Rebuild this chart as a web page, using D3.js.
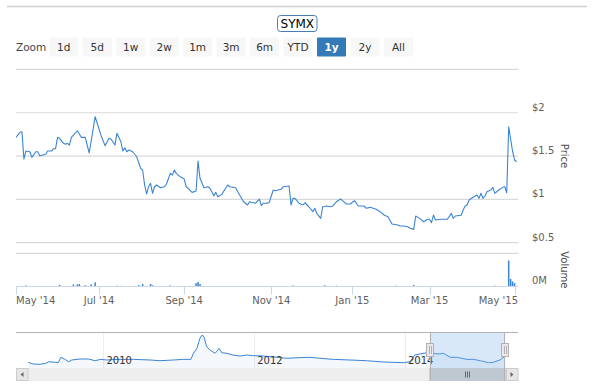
<!DOCTYPE html>
<html><head><meta charset="utf-8">
<script src="https://cdn.jsdelivr.net/npm/d3@7"></script>
<style>
html,body{margin:0;padding:0;background:#fff;}
svg{display:block;font-family:"DejaVu Sans",Verdana,sans-serif;}
</style></head><body>
<svg id="chart" width="599" height="392"></svg>
<script>
// ---------- data ----------
const title = "SYMX";
const zoomButtons = ["1d","5d","1w","2w","1m","3m","6m","YTD","1y","2y","All"];
const selectedButton = "1y";
const priceTicks = [0.5, 1, 1.5, 2, 2.5];
const priceTickLabels = ["$0.5","$1","$1.5","$2",""];
const volumeTicks = [0];
const volumeTickLabels = ["0M"];
const xTickDays = [0, 42, 85, 129, 170, 209, 252];
const xTickLabels = ["May '14","Jul '14","Sep '14","Nov '14","Jan '15","Mar '15","May '15"];
// trading-day index (0 = 1 May 2014) and closing price
const priceDays = [0,2,3,4,5,7,8,10,11,12,15,16,18,19,20,21,22,24,25,26,27,28,31,33,35,37,40,43,45,47,48,50,51,53,54,55,56,57,59,61,63,64,65,66,67,68,69,70,71,73,75,76,78,79,80,81,83,85,86,87,89,91,92,93,95,97,98,100,101,102,104,107,108,111,113,115,117,118,119,121,123,124,125,127,128,130,131,134,135,138,139,140,141,143,145,146,148,150,151,152,154,155,157,159,160,162,164,165,167,169,171,173,176,177,179,182,184,186,188,190,193,194,196,198,199,201,202,204,206,208,209,210,211,212,215,218,220,221,222,225,226,227,228,229,231,233,234,235,236,237,238,240,241,242,244,246,247,248,249,251,252,253];
const prices = [1.716,1.774,1.78,1.466,1.558,1.55,1.485,1.55,1.55,1.504,1.52,1.558,1.558,1.585,1.585,1.716,1.705,1.647,1.635,1.647,1.627,1.716,1.792,1.716,1.716,1.535,1.954,1.735,1.62,1.705,1.697,1.627,1.762,1.665,1.558,1.596,1.55,1.57,1.55,1.492,1.358,1.339,1.166,1.062,1.146,1.185,1.07,1.146,1.166,1.135,1.146,1.174,1.3,1.28,1.339,1.3,1.26,1.235,1.146,1.128,1.081,1.096,1.443,1.243,1.135,1.146,1.128,1.043,1.081,1.03,1.058,1.166,1.146,1.135,1.05,0.973,0.935,0.973,0.966,0.955,1.004,0.927,0.955,0.955,0.966,1.108,1.1,1.116,1.146,1.154,0.935,1.012,1.012,0.955,0.935,0.961,0.915,0.858,0.897,0.839,0.781,0.915,0.923,0.915,0.923,0.973,1.004,0.985,0.947,0.947,0.985,0.923,0.923,0.897,0.908,0.885,0.858,0.82,0.8,0.716,0.704,0.693,0.693,0.685,0.67,0.654,0.808,0.781,0.742,0.77,0.77,0.731,0.82,0.762,0.77,0.77,0.839,0.781,0.808,0.816,0.877,0.923,0.935,0.993,1.024,1.05,1.012,1.07,1.012,1.039,1.089,1.108,1.139,1.07,1.108,1.139,1.146,1.077,1.838,1.55,1.454,1.434];
// volume in millions of shares
const volumeDays = [5,22,29,31,32,35,38,40,51,53,62,64,68,69,78,91,92,93,140,156,162,192,201,242,249,250,251,252];
const volumes = [0.12,0.2,0.25,0.25,0.3,0.15,0.25,0.5,0.1,0.08,0.15,0.3,0.3,0.15,0.12,0.4,0.55,0.3,0.12,0.15,0.1,0.1,0.2,0.1,3.13,0.9,0.6,0.4];
// navigator (full history)
const navYears = [2009.005,2009.07,2009.16,2009.23,2009.28,2009.36,2009.40,2009.435,2009.48,2009.54,2009.58,2009.69,2009.80,2009.89,2009.96,2010.045,2010.18,2010.40,2010.62,2010.75,2010.93,2011.06,2011.16,2011.19,2011.24,2011.28,2011.31,2011.335,2011.37,2011.415,2011.48,2011.50,2011.535,2011.57,2011.64,2011.72,2011.81,2011.90,2011.99,2012.12,2012.30,2012.43,2012.61,2012.74,2012.87,2013.05,2013.27,2013.49,2013.71,2013.98,2014.07,2014.13,2014.24,2014.31,2014.44,2014.51,2014.60,2014.69,2014.82,2014.91,2015.00,2015.11,2015.17,2015.26,2015.33];
const navPrices = [0.63,0.44,0.41,0.52,0.70,0.63,0.59,1.19,1.00,0.70,0.89,1.00,1.00,0.81,0.96,0.89,0.96,0.96,0.89,0.81,0.89,0.96,0.96,1.56,2.19,3.30,3.67,3.41,2.37,2.00,1.63,1.81,2.19,1.70,1.63,1.44,1.33,1.44,1.37,1.33,1.19,1.08,1.15,1.19,1.08,0.96,0.89,0.81,0.67,0.59,0.70,1.44,1.63,1.70,1.56,1.63,1.19,1.19,0.96,0.96,0.81,0.59,0.63,0.89,1.33];
const navTickYears = [2010, 2012, 2014];
const navTickLabels = ["2010","2012","2014"];
const selectedRange = [2014.33, 2015.33];

// ---------- layout ----------
const svg = d3.select("#chart");
const L = 16, R = 518;
const lineColor = "#3a84d2";
const labelColor = "#606060";

// page rule
svg.append("line").attr("x1",7).attr("x2",587).attr("y1",6.5).attr("y2",6.5)
  .attr("stroke","#d0d0d0").attr("stroke-width",1.3);

// title box
const tg = svg.append("g");
tg.append("rect").attr("x",277.5).attr("y",15.5).attr("width",39.5).attr("height",16)
  .attr("rx",3).attr("fill","#fff").attr("stroke","#4a7db3");
tg.append("text").attr("x",297.3).attr("y",27.6).attr("text-anchor","middle")
  .attr("font-size",12).attr("fill","#000").text(title);

// range selector
svg.append("text").attr("x",16).attr("y",50.7).attr("font-size",10.5).attr("fill","#444").text("Zoom");
const bx = d3.scaleBand().domain(zoomButtons).range([49.3, 49.3 + 33.1*zoomButtons.length]).paddingInner(0.12).paddingOuter(0);
const bg = svg.selectAll("g.btn").data(zoomButtons).join("g").attr("class","btn");
bg.append("rect").attr("x",d=>bx(d)).attr("y",37.5).attr("width",29).attr("height",19)
  .attr("rx",1).attr("fill",d=>d===selectedButton?"#337ab7":"#f7f7f7");
bg.append("text").attr("x",d=>bx(d)+14.5).attr("y",50.7).attr("text-anchor","middle")
  .attr("font-size",10.5).attr("font-weight",d=>d===selectedButton?"bold":"normal")
  .attr("fill",d=>d===selectedButton?"#fff":"#333").text(d=>d);

// scales
const x = d3.scaleLinear().domain([0, 253.7]).range([L, R]);
const y = d3.scaleLinear().domain([0.5, 2.5]).range([242.7, 69.4]);
const yv = d3.scaleLinear().domain([0, 4]).range([286.5, 253.3]);

// price gridlines and labels
const pg = svg.append("g");
pg.selectAll("line").data(priceTicks).join("line")
  .attr("x1",L).attr("x2",R).attr("y1",d=>y(d)).attr("y2",d=>y(d))
  .attr("stroke","#d9d9d9").attr("stroke-width",1.2);
pg.selectAll("text").data(priceTicks).join("text")
  .attr("x",532).attr("y",d=>y(d)-2).attr("font-size",10).attr("fill",labelColor)
  .text((d,i)=>priceTickLabels[i]);
svg.append("text").attr("transform",`translate(561,${(y(0.5)+y(2.5))/2}) rotate(90)`)
  .attr("text-anchor","middle").attr("font-size",10).attr("fill","#4d4d4d").text("Price");

// volume pane
svg.append("line").attr("x1",L).attr("x2",R).attr("y1",253.3).attr("y2",253.3).attr("stroke","#d9d9d9").attr("stroke-width",1.2);
svg.selectAll("text.vl").data(volumeTicks).join("text").attr("class","vl")
  .attr("x",532).attr("y",d=>yv(d)-2.5).attr("font-size",10).attr("fill",labelColor)
  .text((d,i)=>volumeTickLabels[i]);
svg.append("text").attr("transform",`translate(561,${(253.3+286.5)/2}) rotate(90)`)
  .attr("text-anchor","middle").attr("font-size",10).attr("fill","#4d4d4d").text("Volume");

svg.append("clipPath").attr("id","clip").append("rect").attr("x",L).attr("y",60).attr("width",R-L).attr("height",230);
svg.append("g").attr("clip-path","url(#clip)").selectAll("rect").data(volumeDays).join("rect")
  .attr("x",d=>x(d)-0.75).attr("width",1.5)
  .attr("y",(d,i)=>yv(volumes[i])).attr("height",(d,i)=>yv(0)-yv(volumes[i]))
  .attr("fill",lineColor);

// x axis
svg.append("line").attr("x1",L).attr("x2",R).attr("y1",286.5).attr("y2",286.5).attr("stroke","#ccd6eb");
const xt = svg.append("g");
xt.selectAll("line").data(xTickDays).join("line")
  .attr("x1",d=>Math.round(x(d))+0.5).attr("x2",d=>Math.round(x(d))+0.5)
  .attr("y1",286.5).attr("y2",294.5).attr("stroke","#ccd6eb");
xt.selectAll("text").data(xTickDays).join("text")
  .attr("y",304).attr("font-size",10).attr("fill",labelColor).text((d,i)=>xTickLabels[i])
  .each(function(d){
    const w = this.getComputedTextLength();
    let cx = x(d) - w/2;
    if (cx < L) cx = L;
    if (cx + w > R) cx = R - w;
    d3.select(this).attr("x",cx);
  });

// price line
svg.append("g").attr("clip-path","url(#clip)").append("path")
  .datum(priceDays.map((d,i)=>[d,prices[i]]))
  .attr("fill","none").attr("stroke",lineColor).attr("stroke-width",1.1).attr("stroke-linejoin","round")
  .attr("d", d3.line().x(d=>x(d[0])).y(d=>y(d[1])));

// ---------- navigator ----------
const navTop = 332, navBot = 368, sbBot = 381;
const nx = d3.scaleLinear().domain([2008.84, 2015.5]).range([L, R]);
const ny = d3.scaleLinear().domain([0, 4]).range([navBot, navTop]);
const ng = svg.append("g");
ng.selectAll("line.ngrid").data(navTickYears).join("line").attr("class","ngrid")
  .attr("x1",d=>Math.round(nx(d))+0.5).attr("x2",d=>Math.round(nx(d))+0.5)
  .attr("y1",navTop).attr("y2",navBot).attr("stroke","#eeeeee");
const navData = navYears.map((d,i)=>[d,navPrices[i]]);
ng.append("path").datum(navData).attr("fill","rgba(47,126,216,0.05)")
  .attr("d", d3.area().x(d=>nx(d[0])).y0(navBot).y1(d=>ny(d[1])));
ng.append("path").datum(navData).attr("fill","none").attr("stroke",lineColor).attr("stroke-width",1)
  .attr("d", d3.line().x(d=>nx(d[0])).y(d=>ny(d[1])));
ng.selectAll("text").data(navTickYears).join("text")
  .attr("x",d=>nx(d)+3).attr("y",364.3).attr("font-size",10).attr("fill","#333")
  .text((d,i)=>navTickLabels[i]);

const mx0 = nx(selectedRange[0]), mx1 = nx(selectedRange[1]);
// scrollbar track
ng.append("rect").attr("x",L).attr("y",navBot).attr("width",R-L).attr("height",sbBot-navBot).attr("fill","#eeeeee");
// mask
ng.append("rect").attr("x",mx0).attr("y",navTop).attr("width",mx1-mx0).attr("height",navBot-navTop)
  .attr("fill","rgba(128,179,236,0.3)");
// thumb
ng.append("rect").attr("x",mx0).attr("y",navBot+0.5).attr("width",mx1-mx0).attr("height",sbBot-navBot-1)
  .attr("fill","#bfc8d1").attr("stroke","#bfc8d1");
[-2,0,2].forEach(o=>{
  const cx = Math.round((mx0+mx1)/2)+0.5+o;
  ng.append("line").attr("x1",cx).attr("x2",cx).attr("y1",371.5).attr("y2",377.5).attr("stroke","#666");
});
// scroll buttons
[[L, -1],[R-12, 1]].forEach(([bx0, dir])=>{
  ng.append("rect").attr("x",bx0+0.5).attr("y",navBot+0.5).attr("width",11.5).attr("height",sbBot-navBot-1)
    .attr("fill","#e6e6e6").attr("stroke","#cccccc");
  const cx = bx0+6, cy = (navBot+sbBot)/2;
  const pts = dir<0 ? [[cx-1.5,cy],[cx+1.5,cy-2.5],[cx+1.5,cy+2.5]] : [[cx+1.5,cy],[cx-1.5,cy-2.5],[cx-1.5,cy+2.5]];
  ng.append("path").attr("d","M"+pts.map(p=>p.join(",")).join("L")+"Z").attr("fill","#666");
});
// outline
ng.append("path").attr("fill","none").attr("stroke","#b2b1b6").attr("stroke-width",1)
  .attr("d",`M${L},${navTop+0.5}L${R},${navTop+0.5}M${Math.round(mx0)+0.5},${navTop}L${Math.round(mx0)+0.5},${sbBot}M${Math.round(mx1)-0.5},${navTop}L${Math.round(mx1)-0.5},${sbBot}`);
// handles
[mx0, mx1].forEach(hx=>{
  const cx = Math.round(hx);
  ng.append("rect").attr("x",cx-3.5).attr("y",343.5).attr("width",7).attr("height",13)
    .attr("fill","#ebe7e8").attr("stroke","#b2b1b6");
  [-1,1].forEach(o=>ng.append("line").attr("x1",cx+o+0.5).attr("x2",cx+o+0.5).attr("y1",346).attr("y2",354).attr("stroke","#b2b1b6"));
});
</script>
</body></html>
